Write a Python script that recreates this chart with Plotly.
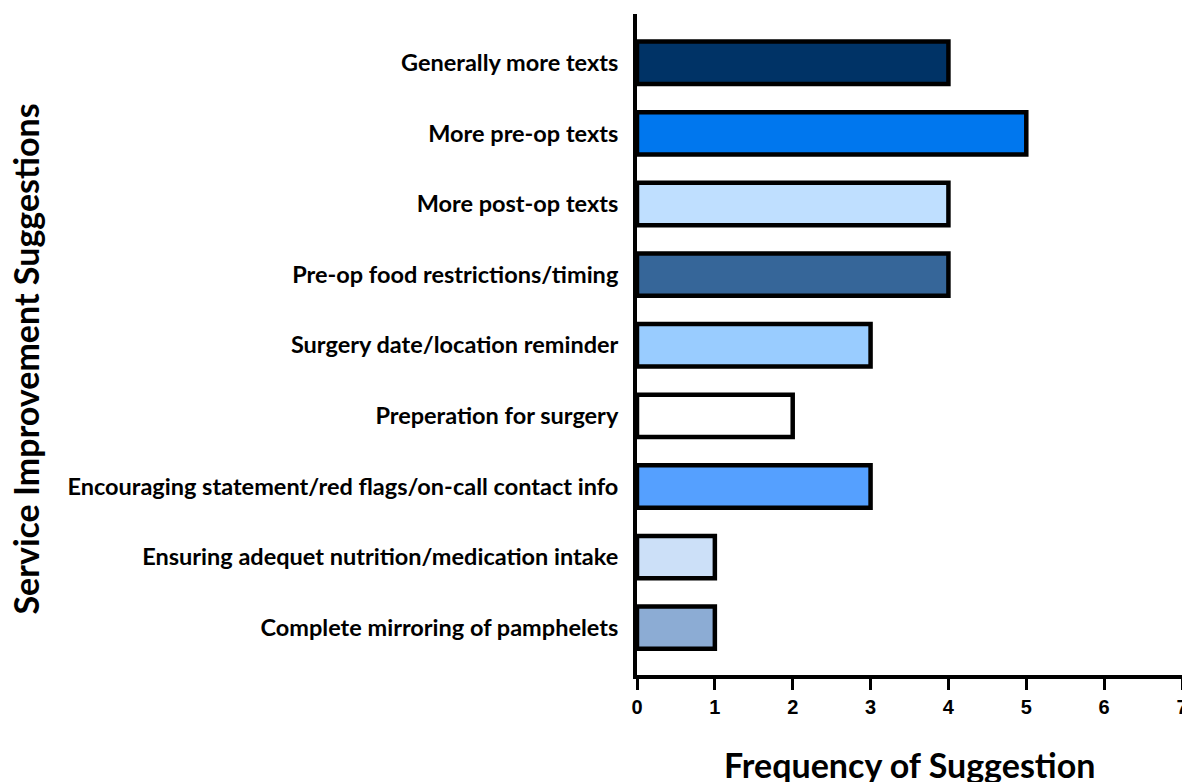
import plotly.graph_objects as go

categories = [
    "Generally more texts",
    "More pre-op texts",
    "More post-op texts",
    "Pre-op food restrictions/timing",
    "Surgery date/location reminder",
    "Preperation for surgery",
    "Encouraging statement/red flags/on-call contact info",
    "Ensuring adequet nutrition/medication intake",
    "Complete mirroring of pamphelets",
]
frequency = [4, 5, 4, 4, 3, 2, 3, 1, 1]
colors = ["#003366", "#0077EE", "#BFDFFF", "#366699", "#99CCFF",
          "#FFFFFF", "#55A0FF", "#CCE0F8", "#8CACD4"]
x_ticks = [0, 1, 2, 3, 4, 5, 6, 7]

fig = go.Figure(go.Bar(
    x=frequency, y=categories, orientation="h",
    marker=dict(color=colors, line=dict(color="black", width=4.5)),
    width=0.6,
))

fig.update_layout(
    width=1182, height=782,
    margin=dict(l=637, r=0, t=14, b=107, autoexpand=False),
    plot_bgcolor="white", paper_bgcolor="white",
    showlegend=False,
    annotations=[
        dict(text="Frequency of Suggestion", xref="paper", yref="paper",
             x=0.5, y=0, yshift=-89, xanchor="center", yanchor="middle", showarrow=False,
             font=dict(family="Lato", size=34, color="black", weight="bold")),
        dict(text="Service Improvement Suggestions", xref="paper", yref="paper",
             x=0, y=0.5, xshift=-612, yshift=-15, xanchor="center", yanchor="middle",
             showarrow=False, textangle=-90,
             font=dict(family="Lato", size=34, color="black", weight="bold")),
    ],
)
fig.update_xaxes(
    range=[0, 7], tickvals=x_ticks, ticktext=[str(v) for v in x_ticks],
    showgrid=False, zeroline=False,
    showline=True, linecolor="black", linewidth=4,
    ticks="outside", ticklen=11, tickwidth=3, tickcolor="black",
    ticklabeloverflow="allow",
    tickfont=dict(family="Liberation Sans", size=20, color="black", weight="bold"),
)
fig.update_yaxes(
    categoryorder="array", categoryarray=categories,
    range=[8.67, -0.69],
    showgrid=False, zeroline=False,
    showline=True, linecolor="black", linewidth=4,
    ticks="", ticklabelstandoff=10,
    tickfont=dict(family="Lato", size=23.5, color="black", weight="bold"),
)

fig.write_html("out.html", config={"displayModeBar": False},
               post_script="document.body.style.margin='0';document.body.style.overflow='hidden';")
